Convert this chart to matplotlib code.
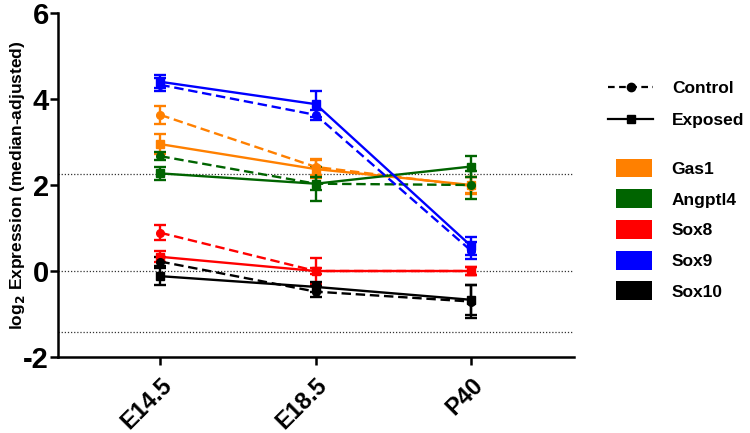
import matplotlib.pyplot as plt
from matplotlib.lines import Line2D
from matplotlib.patches import Patch
import numpy as np

plt.rcParams["font.family"] = ["Liberation Sans", "DejaVu Sans"]
plt.rcParams["font.weight"] = "bold"
plt.rcParams["axes.unicode_minus"] = False

stages = ["E14.5", "E18.5", "P40"]
genes = ["Gas1", "Angptl4", "Sox8", "Sox9", "Sox10"]
colors = ["#ff8000", "#006400", "#ff0000", "#0000ff", "#000000"]

control = {
    "Gas1": [3.63, 2.42, 1.98],
    "Angptl4": [2.67, 2.03, 2.00],
    "Sox8": [0.89, 0.00, 0.00],
    "Sox9": [4.33, 3.63, 0.47],
    "Sox10": [0.22, -0.48, -0.71],
}
control_err = {
    "Gas1": [0.20, 0.18, 0.20],
    "Angptl4": [0.10, 0.15, 0.32],
    "Sox8": [0.18, 0.08, 0.10],
    "Sox9": [0.15, 0.12, 0.20],
    "Sox10": [0.10, 0.12, 0.38],
}
exposed = {
    "Gas1": [2.95, 2.37, 2.00],
    "Angptl4": [2.27, 2.03, 2.43],
    "Sox8": [0.33, 0.00, 0.00],
    "Sox9": [4.40, 3.88, 0.58],
    "Sox10": [-0.12, -0.37, -0.67],
}
exposed_err = {
    "Gas1": [0.23, 0.20, 0.18],
    "Angptl4": [0.15, 0.40, 0.25],
    "Sox8": [0.13, 0.30, 0.10],
    "Sox9": [0.15, 0.30, 0.20],
    "Sox10": [0.20, 0.12, 0.35],
}
ref_lines = [2.26, 0.0, -1.42]

fig = plt.figure(figsize=(7.5, 4.33), dpi=100)
ax = fig.add_axes([0.077, 0.1755, 0.688, 0.7945])

x = np.arange(len(stages))
for y in ref_lines:
    ax.axhline(y, color="#333333", lw=0.9, ls=(0, (1, 1.5)), zorder=1)

for gene, col in zip(genes, colors):
    ax.errorbar(x, exposed[gene], yerr=exposed_err[gene], color=col, lw=1.7,
                marker="s", ms=5.5, capsize=4, capthick=1.7, elinewidth=1.7, zorder=3)
    ax.errorbar(x, control[gene], yerr=control_err[gene], color=col, lw=1.7,
                ls=(0, (4, 2)), marker="o", ms=5.5, capsize=4, capthick=1.7,
                elinewidth=1.7, zorder=3)

ax.set_xlim(-0.66, 2.66)
ax.set_ylim(-2, 6)
ax.set_yticks([-2, 0, 2, 4, 6])
ax.set_xticks(x)
ax.set_xticklabels(stages, rotation=45, ha="right", rotation_mode="anchor",
                   fontsize=17, fontweight="bold")
ax.tick_params(axis="y", labelsize=21, width=1.8, length=6, pad=0.5)
ax.tick_params(axis="x", width=1.8, length=6, pad=6)
for lab in ax.get_yticklabels():
    lab.set_fontweight("bold")
for s in ["top", "right"]:
    ax.spines[s].set_visible(False)
for s in ["left", "bottom"]:
    ax.spines[s].set_linewidth(1.8)
ax.set_ylabel("log$_\\mathbf{2}$ Expression (median-adjusted)", fontsize=12.5,
              fontweight="bold")
ax.yaxis.set_label_coords(-0.06, 0.5)

style_handles = [
    Line2D([0], [0], color="black", lw=1.6, ls=(0, (3, 2)), marker="o", ms=6),
    Line2D([0], [0], color="black", lw=1.6, marker="s", ms=6),
]
leg1 = fig.legend(style_handles, ["Control", "Exposed"], loc="upper left",
                  bbox_to_anchor=(0.79, 0.85), frameon=False, fontsize=12.5,
                  handlelength=2.6, labelspacing=1.0, handletextpad=1.1)
for t in leg1.get_texts():
    t.set_fontweight("bold")

color_handles = [Patch(facecolor=c, edgecolor="none") for c in colors]
leg2 = fig.legend(color_handles, genes, loc="upper left",
                  bbox_to_anchor=(0.8, 0.67), frameon=False, fontsize=12.5,
                  handlelength=2.1, handleheight=1.3, labelspacing=0.68,
                  handletextpad=1.1)
for t in leg2.get_texts():
    t.set_fontweight("bold")

fig.savefig("out.png", dpi=100)
